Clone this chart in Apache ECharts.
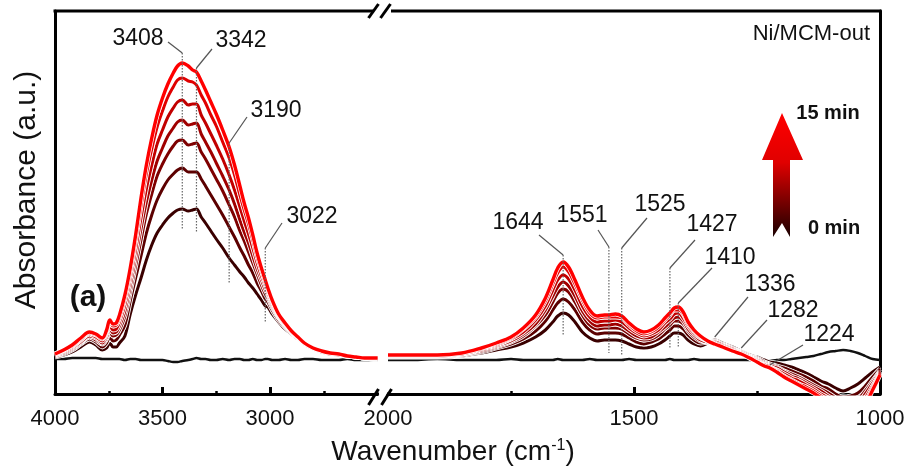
<!DOCTYPE html>
<html><head><meta charset="utf-8">
<script src="https://cdn.jsdelivr.net/npm/echarts@6/dist/echarts.min.js"></script>
<style>html,body{margin:0;padding:0;background:#fff}#c{width:910px;height:467px}</style>
</head><body><div id="c"></div>
<script>
// ---------- DATA ----------
const wnL = [4000,3960,3920,3880,3840,3810,3780,3760,3745,3730,3715,3700,3675,3650,3625,3600,3575,3550,3525,3500,3475,3450,3430,3408,3380,3360,3342,3320,3300,3275,3250,3220,3190,3165,3140,3120,3100,3080,3060,3040,3022,3010,2990,2960,2930,2900,2870,2840,2800,2760,2720,2680,2640,2600,2560,2520,2500];
const curveL0 = [.01,.01,.02,.02,.02,.02,.01,.01,.01,.01,.01,.01,.00,.01,.01,.00,.00,.00,.00,.00,-.01,-.02,-.02,-.01,.00,.01,.02,.01,.01,.00,.00,.01,.00,.01,.01,.00,.00,.01,.00,.00,.01,.01,.00,.00,.01,.00,.00,.01,.01,.00,.00,.00,.01,.00,.00,.00,.00];
const curveL1 = [.03,.05,.08,.13,.18,.15,.10,.12,.17,.13,.13,.17,.24,.46,.65,.82,1.00,1.15,1.27,1.35,1.42,1.47,1.50,1.51,1.49,1.50,1.51,1.43,1.37,1.29,1.21,1.12,1.02,.95,.88,.83,.77,.72,.66,.60,.54,.53,.46,.38,.31,.26,.21,.16,.11,.08,.06,.05,.04,.03,.02,.01,.01];
const curveL2 = [.04,.06,.10,.16,.21,.18,.13,.17,.23,.19,.20,.25,.35,.59,.82,1.04,1.27,1.45,1.60,1.71,1.80,1.86,1.90,1.92,1.88,1.88,1.88,1.81,1.74,1.65,1.56,1.45,1.33,1.23,1.12,1.04,.95,.87,.77,.69,.61,.58,.50,.40,.33,.27,.22,.16,.11,.08,.06,.05,.04,.03,.02,.01,.01];
const curveL3 = [.04,.07,.11,.17,.23,.20,.16,.21,.28,.24,.25,.30,.44,.68,.94,1.20,1.46,1.66,1.84,1.96,2.06,2.14,2.19,2.20,2.15,2.16,2.17,2.08,2.01,1.91,1.81,1.69,1.55,1.43,1.29,1.19,1.08,.97,.86,.75,.66,.62,.53,.42,.34,.27,.22,.16,.11,.08,.06,.05,.04,.03,.02,.01,.01];
const curveL4 = [.05,.08,.12,.18,.24,.22,.17,.23,.31,.27,.28,.34,.49,.74,1.02,1.31,1.58,1.80,1.99,2.12,2.24,2.32,2.38,2.40,2.35,2.36,2.37,2.26,2.18,2.08,1.97,1.84,1.70,1.56,1.40,1.28,1.17,1.04,.91,.80,.70,.65,.55,.43,.35,.28,.22,.17,.12,.08,.07,.05,.04,.03,.02,.02,.02];
const curveL5 = [.05,.09,.13,.20,.26,.23,.19,.26,.34,.30,.31,.38,.55,.81,1.10,1.42,1.71,1.95,2.16,2.30,2.43,2.52,2.58,2.60,2.55,2.56,2.56,2.45,2.37,2.26,2.15,2.01,1.85,1.70,1.53,1.39,1.26,1.12,.97,.84,.74,.67,.57,.44,.36,.28,.23,.17,.12,.09,.07,.06,.04,.03,.02,.02,.02];
const curveL6 = [.06,.10,.14,.21,.27,.25,.21,.28,.38,.34,.35,.42,.61,.87,1.19,1.54,1.86,2.11,2.33,2.49,2.63,2.73,2.80,2.82,2.79,2.78,2.75,2.65,2.57,2.45,2.34,2.18,2.02,1.85,1.65,1.50,1.36,1.20,1.03,.89,.77,.70,.59,.45,.36,.29,.23,.17,.12,.09,.07,.06,.04,.03,.02,.02,.02];
const curveL7 = [.06,.10,.15,.22,.28,.26,.22,.30,.40,.36,.37,.45,.65,.92,1.25,1.62,1.95,2.22,2.45,2.62,2.76,2.87,2.94,2.97,2.94,2.90,2.88,2.79,2.70,2.58,2.46,2.30,2.13,1.95,1.74,1.57,1.42,1.25,1.07,.92,.80,.72,.60,.46,.37,.29,.23,.17,.12,.09,.07,.06,.04,.03,.02,.02,.02];

const wnR = [2000,1950,1900,1850,1810,1780,1750,1725,1700,1680,1665,1655,1644,1633,1620,1605,1590,1575,1560,1551,1538,1525,1510,1495,1480,1465,1450,1437,1427,1418,1410,1400,1390,1378,1365,1350,1336,1320,1300,1282,1265,1250,1235,1224,1210,1195,1180,1165,1150,1135,1120,1105,1090,1075,1060,1045,1030,1015,1000];
const curveR0 = [.00,.00,.01,.00,.00,.00,.01,.00,.00,.00,.00,.01,.00,.00,.00,.00,.01,.00,.00,.00,.00,.00,.01,.00,.00,.00,.00,.00,.01,.00,.00,.00,.00,.01,.00,.00,.00,.00,.00,.00,.00,-.01,-.01,-.01,.00,.00,.01,.02,.03,.04,.06,.08,.09,.10,.09,.07,.04,.01,.00];
const curveR1 = [.03,.03,.03,.04,.07,.10,.13,.17,.23,.30,.38,.44,.47,.45,.38,.28,.22,.19,.20,.20,.20,.19,.16,.13,.12,.13,.16,.20,.24,.27,.27,.25,.20,.16,.14,.17,.20,.17,.13,.09,.05,.03,.00,-.02,-.03,-.05,-.07,-.10,-.13,-.17,-.21,-.24,-.28,-.31,-.28,-.24,-.18,-.12,-.07];
const curveR2 = [.04,.04,.04,.05,.08,.12,.16,.21,.29,.39,.50,.57,.61,.58,.50,.38,.30,.26,.27,.27,.27,.26,.22,.18,.16,.18,.21,.26,.30,.34,.34,.31,.25,.20,.17,.18,.19,.16,.12,.08,.04,.02,-.02,-.04,-.06,-.08,-.11,-.14,-.17,-.21,-.26,-.29,-.34,-.37,-.36,-.33,-.26,-.17,-.09];
const curveR3 = [.04,.04,.04,.05,.09,.13,.18,.24,.34,.45,.58,.67,.71,.68,.58,.45,.35,.31,.32,.32,.32,.31,.26,.22,.20,.21,.25,.31,.35,.39,.39,.36,.29,.23,.19,.18,.18,.15,.11,.08,.04,.01,-.03,-.05,-.07,-.11,-.14,-.17,-.21,-.25,-.29,-.33,-.38,-.41,-.41,-.39,-.31,-.21,-.11];
const curveR4 = [.04,.04,.04,.06,.10,.14,.19,.26,.36,.50,.64,.73,.78,.74,.64,.49,.39,.34,.35,.35,.36,.34,.29,.24,.22,.23,.28,.33,.38,.42,.43,.39,.31,.25,.20,.18,.18,.15,.11,.07,.03,.00,-.04,-.06,-.08,-.12,-.16,-.19,-.23,-.27,-.31,-.36,-.40,-.44,-.44,-.43,-.34,-.23,-.12];
const curveR5 = [.05,.05,.05,.06,.11,.15,.21,.28,.40,.54,.70,.80,.85,.81,.70,.54,.43,.38,.39,.39,.40,.38,.32,.27,.24,.26,.30,.37,.41,.46,.47,.42,.34,.27,.22,.19,.17,.14,.10,.07,.03,-.01,-.05,-.07,-.10,-.14,-.18,-.21,-.25,-.29,-.34,-.38,-.43,-.47,-.48,-.47,-.38,-.26,-.13];
const curveR6 = [.05,.05,.05,.07,.12,.16,.22,.31,.43,.59,.76,.87,.93,.88,.76,.60,.47,.42,.43,.43,.43,.42,.35,.29,.26,.28,.33,.40,.45,.50,.50,.46,.36,.29,.23,.19,.16,.13,.09,.06,.02,-.02,-.05,-.07,-.11,-.16,-.20,-.24,-.27,-.31,-.36,-.41,-.46,-.50,-.52,-.52,-.42,-.28,-.14];
const curveR7 = [.05,.05,.05,.07,.12,.17,.23,.32,.45,.62,.80,.92,.98,.93,.80,.63,.50,.44,.45,.45,.46,.44,.37,.31,.28,.30,.35,.42,.47,.52,.53,.48,.38,.30,.24,.19,.16,.13,.09,.06,.02,-.02,-.06,-.08,-.12,-.17,-.21,-.25,-.29,-.33,-.38,-.43,-.48,-.52,-.55,-.55,-.45,-.30,-.15];

const ticksLeft = [4000, 3500, 3000];
const ticksRight = [2000, 1500, 1000];
const peaksLeft = [3408, 3342, 3190, 3022];
const peaksRight = [1644, 1551, 1525, 1427, 1410, 1336, 1282, 1224];

// ---------- STYLE / LAYOUT ----------
const FONT = "'Liberation Sans', Arial, sans-serif";
const curveColors = ['#111111','#3a0000','#5c0000','#7e0000','#a00000','#c20000','#e00000','#ff0000'];
const curvesL = [curveL0,curveL1,curveL2,curveL3,curveL4,curveL5,curveL6,curveL7];
const curvesR = [curveR0,curveR1,curveR2,curveR3,curveR4,curveR5,curveR6,curveR7];
const annLeftLayout = [
  {top:53, bot:230, lead:[168,42], text:[138,39]},
  {top:68, bot:232, lead:[212,49], text:[241,41]},
  {top:143, bot:283, lead:[247,117], text:[276,111]},
  {top:248, bot:323, lead:[282,223], text:[312,217]}
];
const annRightLayout = [
  {top:255, bot:335, lead:[539,235], text:[518,223]},
  {top:247, bot:353, lead:[598,230], text:[582,216]},
  {top:248, bot:355, lead:[647,218], text:[660,205]},
  {top:268, bot:348, lead:[695,240], text:[712,225]},
  {top:303, bot:348, lead:[712,268], text:[730,258]},
  {top:337, bot:null, lead:[748,297], text:[770,285]},
  {top:348, bot:null, lead:[767,320], text:[793,311]},
  {top:365, bot:null, lead:[803,345], text:[829,335]}
];

const series = [];
function addCurves(curves, wn, axisIdx) {
  curves.forEach((vals, i) => {
    const data = wn.map((w, j) => [w, vals[j]]);
    if (i > 0) {
      series.push({type:'line', xAxisIndex:axisIdx, yAxisIndex:axisIdx, data, showSymbol:false, smooth:0.35,
        silent:true, lineStyle:{color:'#ffffff', width:4.8}, z:2});
    }
    series.push({type:'line', name: i + '', xAxisIndex:axisIdx, yAxisIndex:axisIdx, data, showSymbol:false, smooth:0.35,
      silent:true, lineStyle:{color:curveColors[i], width: i === 0 ? 2.4 : (i === 7 ? 3.4 : 3.0)}, z:2});
  });
}
addCurves(curvesL, wnL, 0);
addCurves(curvesR, wnR, 1);

const axisCommon = {
  type:'value', inverse:true, interval:500,
  axisLine:{show:true, onZero:false, lineStyle:{color:'#000', width:3}},
  axisTick:{show:true, inside:true, length:7, lineStyle:{color:'#000', width:3}},
  minorTick:{show:true, splitNumber:2, length:3, lineStyle:{color:'#000', width:2.5}},
  splitLine:{show:false}, minorSplitLine:{show:false},
  axisLabel:{color:'#111', fontSize:22, fontFamily:FONT, margin:14, showMinLabel:true, showMaxLabel:true}
};
const yCommon = {
  type:'value', min:-0.34, max:3.49,
  axisLine:{show:true, onZero:false, lineStyle:{color:'#000', width:3}},
  axisTick:{show:false}, axisLabel:{show:false}, splitLine:{show:false}
};

const option = {
  animation:false,
  backgroundColor:'#fff',
  grid:[
    {left:55, right:532.5, top:11, bottom:73},
    {left:388, right:30, top:11, bottom:73}
  ],
  xAxis:[
    Object.assign({}, axisCommon, {gridIndex:0, min:2500, max:4000,
      axisLabel:Object.assign({}, axisCommon.axisLabel, {formatter: v => ticksLeft.includes(v) ? String(v) : ''})}),
    Object.assign({}, axisCommon, {gridIndex:1, min:1000, max:2000,
      axisLabel:Object.assign({}, axisCommon.axisLabel, {formatter: v => ticksRight.includes(v) ? String(v) : ''})})
  ],
  yAxis:[
    Object.assign({}, yCommon, {gridIndex:0, position:'left'}),
    Object.assign({}, yCommon, {gridIndex:1, position:'right'})
  ],
  series
};

const chart = echarts.init(document.getElementById('c'), null, {renderer:'canvas'});
chart.setOption(option);

// ---------- decorations / annotations ----------
const g = [];
const line = (x1,y1,x2,y2,st) => g.push({type:'line', silent:true, z:10, shape:{x1,y1,x2,y2}, style:Object.assign({stroke:'#000', lineWidth:3}, st||{})});
const text = (t,x,y,st,extra) => g.push(Object.assign({type:'text', silent:true, z:11, x, y,
  style:Object.assign({text:t, fill:'#111', fontFamily:FONT, fontSize:23, align:'center', verticalAlign:'middle', textAlign:'center', textVerticalAlign:'middle'}, st||{})}, extra||{}));

// top frame with break
line(53.5, 11, 374, 11);
line(391, 11, 881.5, 11);
// masks for ticks at the break
g.push({type:'rect', silent:true, z:9, shape:{x:374, y:382, width:18, height:10.5}, style:{fill:'#fff'}});
// break slashes
line(368.5, 18, 378.5, 4);
line(380.5, 18, 390.5, 4);
line(368.5, 405, 378.5, 389);
line(381.5, 405, 391.5, 389);

function annotate(peaks, layout, axisIdx) {
  peaks.forEach((wn, i) => {
    const L = layout[i];
    const x = chart.convertToPixel({xAxisIndex:axisIdx}, wn);
    if (L.bot !== null) line(x, L.top, x, L.bot, {stroke:'#666', lineWidth:1.2, lineDash:[1.5,1.5]});
    line(L.lead[0], L.lead[1], x, L.top, {stroke:'#555', lineWidth:1.2});
    text(String(wn), L.text[0], L.text[1]);
  });
}
annotate(peaksLeft, annLeftLayout, 0);
annotate(peaksRight, annRightLayout, 1);

// titles
text('Absorbance (a.u.)', 27, 190, {fontSize:30}, {rotation:Math.PI/2});
g.push({type:'text', silent:true, z:11, x:453, y:452, style:{
  text:'{a|Wavenumber (cm}{b|-1}{a|)}', fontFamily:FONT, align:'center', verticalAlign:'middle', textAlign:'center', textVerticalAlign:'middle',
  rich:{a:{fontSize:28, fontFamily:FONT, fill:'#111', color:'#111'}, b:{fontSize:16, fontFamily:FONT, fill:'#111', color:'#111', verticalAlign:'top', padding:[0,0,12,0]}}}});
text('Ni/MCM-out', 870, 34, {fontSize:22, align:'right', textAlign:'right'});
text('(a)', 88, 298, {fontSize:30, fontWeight:'bold'});
text('15 min', 828, 113, {fontSize:20, fontWeight:'bold'});
text('0 min', 834, 228, {fontSize:20, fontWeight:'bold'});
// time arrow
g.push({type:'polygon', silent:true, z:10, shape:{points:[[782,113],[803,160],[790,160],[790,237],[782,223],[773,237],[773,160],[762,160]]},
  style:{fill:new echarts.graphic.LinearGradient(0,0,0,1,[{offset:0,color:'#ff0000'},{offset:0.4,color:'#e00000'},{offset:1,color:'#1a0000'}])}});

chart.setOption({graphic:g});
</script>
</body></html>
